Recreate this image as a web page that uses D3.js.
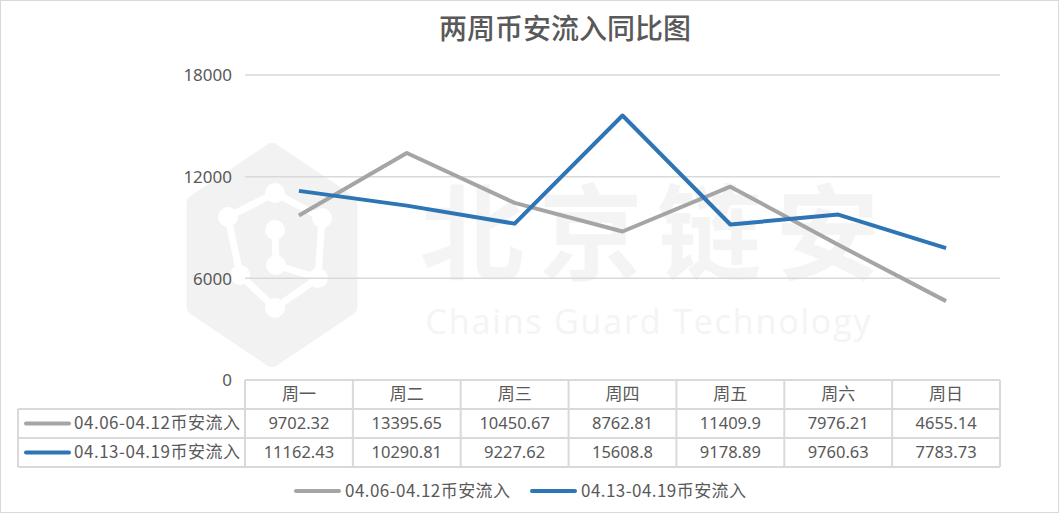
<!DOCTYPE html>
<html><head><meta charset="utf-8">
<script src="https://cdn.jsdelivr.net/npm/d3@7"></script>
<style>body{margin:0;background:#fff}svg{display:block}text{font-family:"Noto Sans CJK SC","Noto Sans",sans-serif}</style>
</head><body>
<script>
const title = "两周币安流入同比图";
const categories = ["周一","周二","周三","周四","周五","周六","周日"];
const seriesNames = ["04.06-04.12币安流入","04.13-04.19币安流入"];
const series1 = [9702.32,13395.65,10450.67,8762.81,11409.9,7976.21,4655.14];
const series2 = [11162.43,10290.81,9227.62,15608.8,9178.89,9760.63,7783.73];
const series1Labels = ["9702.32","13395.65","10450.67","8762.81","11409.9","7976.21","4655.14"];
const series2Labels = ["11162.43","10290.81","9227.62","15608.8","9178.89","9760.63","7783.73"];
const yTicks = [0,6000,12000,18000];
const colors = ["#A5A5A5","#2E75B6"];

const W=1059,H=513;
const numFont="'Noto Sans','Liberation Sans',sans-serif";
const svg=d3.select("body").append("svg").attr("width",W).attr("height",H);
svg.append("rect").attr("x",0.5).attr("y",0.5).attr("width",W-1).attr("height",H-1).attr("fill","#fff").attr("stroke","#d9d9d9");

// watermark
const wm=svg.append("g");
const hx=272,hy=255,hr=104;
const hexPts=d3.range(6).map(i=>{const a=Math.PI/3*i-Math.PI/2;return [hx+hr*0.86*Math.cos(a),hy+hr*Math.sin(a)];});
wm.append("path").attr("d",d3.line().curve(d3.curveLinearClosed)(hexPts)).attr("fill","#f2f2f2").attr("stroke","#f2f2f2").attr("stroke-width",16).attr("stroke-linejoin","round");
const nodes=[[275,193],[228,217],[322,218],[275,230],[276,265],[240,275],[318,278],[275,308]];
wm.append("path").attr("d",d3.line()([[275,193],[228,217],[240,275],[275,308],[318,278],[322,218],[275,193]])).attr("fill","none").attr("stroke","#fff").attr("stroke-width",7);
wm.append("path").attr("d",d3.line()([[275,230],[276,265],[318,278]])).attr("fill","none").attr("stroke","#fff").attr("stroke-width",7);
nodes.forEach(n=>wm.append("circle").attr("cx",n[0]).attr("cy",n[1]).attr("r",10).attr("fill","#fff"));
wm.append("text").attr("x",650).attr("y",272).attr("text-anchor","middle").attr("font-size",104).attr("font-weight","bold").attr("fill","#f4f4f4").attr("textLength",460).text("北京链安");
wm.append("text").attr("x",648).attr("y",334).attr("text-anchor","middle").attr("font-size",34).attr("fill","#f4f4f4").attr("textLength",445).style("font-family","'Open Sans',sans-serif").text("Chains Guard Technology");

// title
svg.append("text").attr("x",565).attr("y",39).attr("text-anchor","middle").attr("font-size",28).attr("fill","#595959").attr("font-weight",500).text(title);

const x0=245,x1=1000;
const x=d3.scaleBand().domain(categories).range([x0,x1]);
const y=d3.scaleLinear().domain([0,18000]).range([380,75]);
const textColor="#595959";

// gridlines
svg.append("g").selectAll("line").data(yTicks.filter(d=>d>0)).join("line")
 .attr("x1",x0).attr("x2",x1).attr("y1",d=>y(d)).attr("y2",d=>y(d)).attr("stroke","#d9d9d9").attr("stroke-width",1.5);
const yAxis=d3.axisLeft(y).tickValues(yTicks).tickSize(0).tickPadding(0).tickFormat(d3.format("d"));
const ya=svg.append("g").attr("transform","translate(232,0)").call(yAxis);
ya.select(".domain").remove();
ya.selectAll("text").attr("font-size",17).attr("fill",textColor).attr("dy","0.35em").style("font-family",numFont);

// lines
const line=d3.line().x((d,i)=>x(categories[i])+x.bandwidth()/2).y(d=>y(d));
[series1,series2].forEach((s,k)=>{
 svg.append("path").datum(s).attr("d",line).attr("fill","none").attr("stroke",colors[k]).attr("stroke-width",4).attr("stroke-linejoin","round");
});

// table
const rows=[380,409,438,467];
const tg=svg.append("g");
const tableStroke="#d9d9d9";
tg.append("line").attr("x1",x0).attr("x2",x1).attr("y1",rows[0]).attr("y2",rows[0]).attr("stroke",tableStroke).attr("stroke-width",2);
[1,2,3].forEach(r=>tg.append("line").attr("x1",18).attr("x2",x1).attr("y1",rows[r]).attr("y2",rows[r]).attr("stroke",tableStroke).attr("stroke-width",2));
categories.forEach((c,i)=>tg.append("line").attr("x1",x(c)).attr("x2",x(c)).attr("y1",rows[0]).attr("y2",rows[3]).attr("stroke",tableStroke).attr("stroke-width",2));
tg.append("line").attr("x1",x1).attr("x2",x1).attr("y1",rows[0]).attr("y2",rows[3]).attr("stroke",tableStroke).attr("stroke-width",2);
tg.append("line").attr("x1",18).attr("x2",18).attr("y1",rows[1]).attr("y2",rows[3]).attr("stroke",tableStroke).attr("stroke-width",2);
categories.forEach((c,i)=>{
 const cx=x(c)+x.bandwidth()/2;
 tg.append("text").attr("x",cx).attr("y",(rows[0]+rows[1])/2).attr("dy","0.35em").attr("text-anchor","middle").attr("font-size",17).attr("fill",textColor).text(c);
 tg.append("text").attr("x",cx).attr("y",(rows[1]+rows[2])/2).attr("dy","0.35em").attr("text-anchor","middle").attr("font-size",16.5).attr("fill",textColor).style("font-family",numFont).text(series1Labels[i]);
 tg.append("text").attr("x",cx).attr("y",(rows[2]+rows[3])/2).attr("dy","0.35em").attr("text-anchor","middle").attr("font-size",16.5).attr("fill",textColor).style("font-family",numFont).text(series2Labels[i]);
});
seriesNames.forEach((n,k)=>{
 const cy=(rows[k+1]+rows[k+2])/2;
 tg.append("line").attr("x1",26).attr("x2",69).attr("y1",cy).attr("y2",cy).attr("stroke",colors[k]).attr("stroke-width",4).attr("stroke-linecap","round");
 tg.append("text").attr("x",74).attr("y",cy).attr("dy","0.35em").attr("font-size",17).attr("fill",textColor).attr("textLength",166).text(n);
});

// legend
const legX=[296,532];
seriesNames.forEach((n,k)=>{
 const ly=491;
 svg.append("line").attr("x1",legX[k]).attr("x2",legX[k]+43).attr("y1",ly).attr("y2",ly).attr("stroke",colors[k]).attr("stroke-width",4).attr("stroke-linecap","round");
 svg.append("text").attr("x",legX[k]+49).attr("y",ly).attr("dy","0.35em").attr("font-size",17).attr("fill",textColor).attr("textLength",165).text(n);
});
</script>
</body></html>
